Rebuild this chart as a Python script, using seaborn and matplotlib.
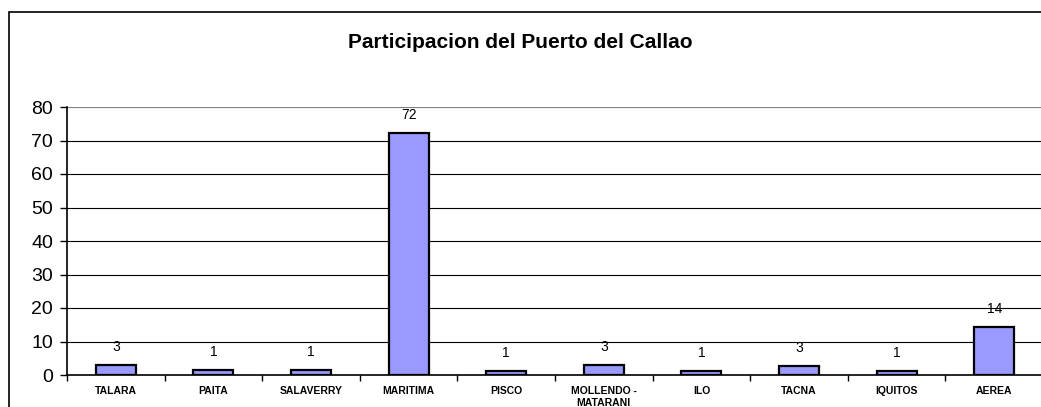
import matplotlib
matplotlib.use("Agg")
import matplotlib.pyplot as plt
import seaborn as sns
import pandas as pd
import numpy as np
from matplotlib.patches import Rectangle

categorias = ["TALARA", "PAITA", "SALAVERRY", "MARITIMA", "PISCO",
              "MOLLENDO -\nMATARANI", "ILO", "TACNA", "IQUITOS", "AEREA"]
participacion = [3.1, 1.4, 1.4, 72.2, 1.2, 3.0, 1.2, 2.8, 1.3, 14.3]
y_ticks = [0, 10, 20, 30, 40, 50, 60, 70, 80]
titulo = "Participacion del Puerto del Callao"

df = pd.DataFrame({"puerto": categorias, "valor": participacion})

sns.set_style("white")
plt.rcParams["font.family"] = ["Liberation Sans", "DejaVu Sans"]
plt.rcParams["text.color"] = "black"
plt.rcParams["xtick.color"] = "black"
plt.rcParams["ytick.color"] = "black"

W, H = 1041, 407
fig = plt.figure(figsize=(W / 100, H / 100), dpi=100)
fig.patch.set_facecolor("white")

# outer chart frame
fig.add_artist(Rectangle((8.5 / W, -0.05), 1.1, (H - 11.5) / H + 0.05,
                         transform=fig.transFigure, fill=False,
                         edgecolor="black", linewidth=1.2))

left_px, right_px, top_px, bottom_px = 67, 1043, 107, 375
ax = fig.add_axes([left_px / W, (H - bottom_px) / H,
                   (right_px - left_px) / W, (bottom_px - top_px) / H])

# horizontal gridlines
for v in y_ticks[1:]:
    color = "#808080" if v == y_ticks[-1] else "black"
    lw = 1.6 if v == y_ticks[-1] else 0.8
    ax.axhline(v, color=color, linewidth=lw, zorder=0)

sns.barplot(data=df, x="puerto", y="valor", ax=ax, color="#9999FF",
            saturation=1, width=0.41, edgecolor="black", linewidth=1.6,
            zorder=2)

for i, v in enumerate(participacion):
    ax.annotate(f"{v:.0f}", (i, v), xytext=(0, 13), textcoords="offset points",
                ha="center", va="center", fontsize=10, color="black")

ax.set_xlim(-0.5, len(categorias) - 0.5)
ax.set_ylim(0, 80)
ax.set_yticks(y_ticks)
ax.set_yticklabels([str(t) for t in y_ticks], fontsize=14, color="black")
ax.set_xticks(range(len(categorias)))
ax.set_xticklabels(categorias, fontsize=7.5, fontweight="bold",
                   linespacing=1.2, va="top", color="black")
ax.set_xticks(np.arange(-0.5, len(categorias), 1), minor=True)
ax.tick_params(axis="x", which="major", length=0, pad=8)
ax.tick_params(axis="x", which="minor", length=4, width=1, color="black",
               direction="out", bottom=True)
ax.tick_params(axis="y", length=5, width=1, color="black", direction="out",
               left=True, pad=5)
ax.set_xlabel("")
ax.set_ylabel("")

for s in ["top", "right"]:
    ax.spines[s].set_visible(False)
for s in ["left", "bottom"]:
    ax.spines[s].set_color("black")
    ax.spines[s].set_linewidth(1.2)
ax.set_facecolor("white")

fig.text(520 / W, (H - 43) / H, titulo, ha="center", va="center",
         fontsize=15, fontweight="bold", color="black")

fig.savefig("out.png", dpi=100, facecolor="white")
